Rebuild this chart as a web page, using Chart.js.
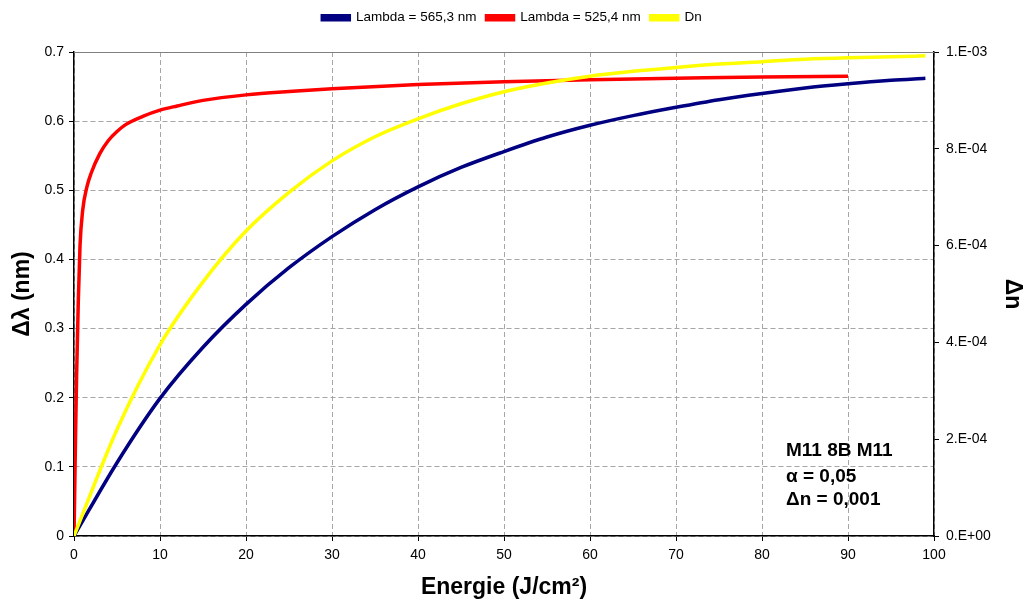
<!DOCTYPE html>
<html>
<head>
<meta charset="utf-8">
<script src="https://cdn.jsdelivr.net/npm/chart.js@4.4.1/dist/chart.umd.min.js"></script>
<style>
  html, body { margin: 0; padding: 0; background: #fff; }
  canvas { display: block; }
</style>
</head>
<body>
<canvas id="energyChart" width="1024" height="604"></canvas>
<script>
// Lambda = 565,3 nm
const blueEnergy = [0, 5, 10, 15, 20, 25, 30, 35, 40, 45, 50, 55, 60, 65, 70, 75, 80, 85, 90, 95, 99];
const blueShift = [0, 0.106, 0.199, 0.273, 0.335, 0.388, 0.433, 0.472, 0.505, 0.533, 0.556, 0.577, 0.594, 0.608, 0.620, 0.631, 0.640, 0.648, 0.654, 0.659, 0.662];

// Lambda = 525,4 nm
const redEnergy = [0, 0.1, 0.2, 0.3, 0.5, 0.7, 1, 1.5, 2, 3, 4, 5, 6, 8, 10, 12, 15, 20, 25, 30, 40, 50, 60, 70, 80, 90];
const redShift = [0, 0.08, 0.16, 0.23, 0.34, 0.42, 0.47, 0.505, 0.525, 0.553, 0.572, 0.585, 0.595, 0.607, 0.616, 0.622, 0.630, 0.638, 0.643, 0.647, 0.653, 0.657, 0.660, 0.662, 0.664, 0.665];

// Dn (right axis)
const dnEnergy = [0, 5, 10, 15, 20, 25, 30, 35, 40, 45, 50, 55, 60, 65, 70, 75, 80, 85, 90, 95, 99];
const dnValues = [0, 2.2e-4, 3.95e-4, 5.25e-4, 6.3e-4, 7.1e-4, 7.75e-4, 8.25e-4, 8.62e-4, 8.93e-4, 9.18e-4, 9.36e-4, 9.5e-4, 9.6e-4, 9.68e-4, 9.75e-4, 9.8e-4, 9.85e-4, 9.88e-4, 9.9e-4, 9.92e-4];

const seriesLabels = ['Lambda = 565,3 nm', 'Lambda = 525,4 nm', 'Dn'];
const infoLines = ['M11 8B M11', '\u03b1 = 0,05', '\u0394n = 0,001'];

const FONT = "'Liberation Sans', Arial, sans-serif";

function toPoints(xs, ys) {
    return xs.map((x, i) => ({ x: x, y: ys[i] }));
}

// Excel style scientific labels: 2.E-04
function sciLabel(v) {
    if (Math.abs(v) < 1e-12) return '0.E+00';
    const exp = Math.floor(Math.log10(Math.abs(v)) + 1e-9);
    const mant = Math.round(v / Math.pow(10, exp));
    return mant + '.E' + (exp < 0 ? '-' : '+') + String(Math.abs(exp)).padStart(2, '0');
}

// solid grey frame on top + text block in the lower right corner
const framePlugin = {
    id: 'frame',
    afterLayout(chart) {
        // keep the legend pinned near the top edge
        const lg = chart.legend;
        if (lg) {
            const shift = lg.top - 1;
            lg.top -= shift;
            lg.bottom -= shift;
            if (lg.legendHitBoxes) lg.legendHitBoxes.forEach(h => { h.top -= shift; });
        }
    },
    beforeDatasetsDraw(chart) {
        const a = chart.chartArea;
        const ctx = chart.ctx;
        ctx.save();
        ctx.strokeStyle = '#808080';
        ctx.lineWidth = 1;
        ctx.beginPath();
        ctx.moveTo(a.left, a.top + 0.5);
        ctx.lineTo(a.right, a.top + 0.5);
        ctx.stroke();
        ctx.restore();
    },
    afterDraw(chart) {
        const a = chart.chartArea;
        const ctx = chart.ctx;
        const offsets = [80, 54.5, 31];
        ctx.save();
        ctx.fillStyle = '#000';
        ctx.font = 'bold 19px ' + FONT;
        ctx.textBaseline = 'alphabetic';
        ctx.textAlign = 'left';
        infoLines.forEach((t, i) => ctx.fillText(t, a.left + 712, a.bottom - offsets[i]));
        ctx.restore();
    }
};

const ctx = document.getElementById('energyChart').getContext('2d');
const energyChart = new Chart(ctx, {
    type: 'line',
    data: {
        datasets: [{
            label: seriesLabels[0],
            data: toPoints(blueEnergy, blueShift),
            borderColor: '#000080',
            backgroundColor: '#000080',
            yAxisID: 'y',
            order: 2
        }, {
            label: seriesLabels[1],
            data: toPoints(redEnergy, redShift),
            borderColor: '#ff0000',
            backgroundColor: '#ff0000',
            yAxisID: 'y',
            order: 1
        }, {
            label: seriesLabels[2],
            data: toPoints(dnEnergy, dnValues),
            borderColor: '#ffff00',
            backgroundColor: '#ffff00',
            yAxisID: 'y2',
            order: 0
        }]
    },
    options: {
        responsive: false,
        animation: false,
        devicePixelRatio: 1,
        layout: { padding: { top: 1, left: 0, right: 0, bottom: 0 } },
        elements: {
            line: { borderWidth: 3.5, cubicInterpolationMode: 'monotone', fill: false },
            point: { radius: 0, hoverRadius: 0 }
        },
        plugins: {
            legend: {
                position: 'top',
                labels: {
                    boxWidth: 27,
                    boxHeight: 4,
                    padding: 10,
                    color: '#000',
                    font: { family: FONT, size: 13.5 },
                    sort: (a, b) => a.datasetIndex - b.datasetIndex
                }
            },
            tooltip: { enabled: false }
        },
        scales: {
            x: {
                type: 'linear',
                min: 0,
                max: 100,
                ticks: { stepSize: 10, color: '#000', padding: 6, font: { family: FONT, size: 14 } },
                grid: { color: '#a6a6a6', tickColor: '#000', tickLength: 5 },
                border: { color: '#000', width: 1.5, dash: [5, 3] },
                title: {
                    display: true,
                    text: 'Energie (J/cm\u00b2)',
                    color: '#000',
                    font: { family: FONT, size: 23, weight: 'bold' },
                    padding: { top: 0, bottom: 3 }
                },
                afterFit: s => { s.height = 68; }
            },
            y: {
                position: 'left',
                min: 0,
                max: 0.7,
                ticks: { stepSize: 0.1, color: '#000', padding: 5, font: { family: FONT, size: 14 } },
                grid: { color: '#a6a6a6', tickColor: '#000', tickLength: 5 },
                border: { color: '#000', width: 1.5, dash: [5, 3] },
                title: {
                    display: true,
                    text: '\u0394\u03bb (nm)',
                    color: '#000',
                    font: { family: FONT, size: 23, weight: 'bold' },
                    padding: { top: 9, bottom: 0 }
                },
                afterFit: s => { s.width = 74; s.paddingTop = 52; }
            },
            y2: {
                position: 'right',
                min: 0,
                max: 0.001,
                ticks: {
                    stepSize: 0.0002,
                    color: '#000',
                    padding: 7,
                    font: { family: FONT, size: 14 },
                    callback: v => sciLabel(v)
                },
                grid: { drawOnChartArea: false, color: '#000', tickColor: '#000', tickLength: 5 },
                border: { color: '#000', width: 1.5 },
                title: {
                    display: true,
                    text: '\u0394n',
                    color: '#000',
                    font: { family: FONT, size: 23, weight: 'bold', lineHeight: 1 },
                    padding: { top: 0, bottom: 0 }
                },
                afterFit: s => { s.width = 90; }
            }
        }
    },
    plugins: [framePlugin]
});
</script>
</body>
</html>
